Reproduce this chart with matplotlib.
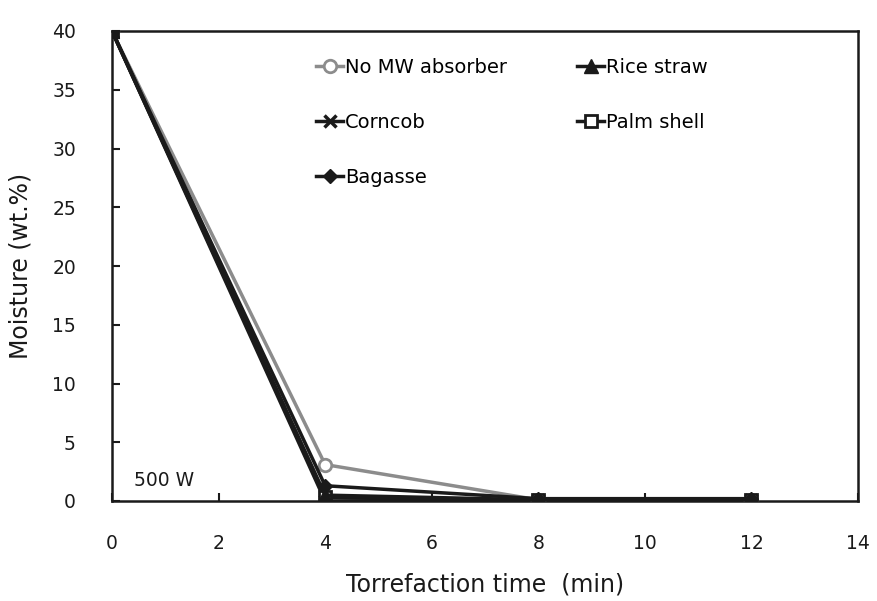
import matplotlib
matplotlib.use("Agg")
import matplotlib.pyplot as plt

plt.rcParams['font.family'] = ['DejaVu Sans']

time = [0, 4, 8, 12]
no_mw = [40, 3.1, 0.1, 0.1]
corncob = [40, 0.0, 0.1, 0.1]
bagasse = [40, 1.3, 0.2, 0.2]
rice_straw = [40, 0.5, 0.1, 0.1]
palm_shell = [40, 0.3, 0.1, 0.1]

fig = plt.figure(figsize=(8.77, 6.01), dpi=100)
ax = fig.add_axes([112/877, 1-501/601, (858-112)/877, (501-31)/601])

dark = '#1a1a1a'
h_no, = ax.plot(time, no_mw, color='#8c8c8c', lw=2.5, marker='o', ms=9, mfc='white', mec='#8c8c8c', mew=2, label='No MW absorber', zorder=3)
h_cc, = ax.plot(time, corncob, color=dark, lw=2.5, marker='x', ms=9, mew=2.5, label='Corncob', zorder=3)
h_ps, = ax.plot(time, palm_shell, color=dark, lw=2.5, marker='s', ms=8, mfc='white', mec=dark, mew=2, label='Palm shell', zorder=3)
h_rs, = ax.plot(time, rice_straw, color=dark, lw=2.5, marker='^', ms=10, mfc=dark, label='Rice straw', zorder=4)
h_bg, = ax.plot(time, bagasse, color=dark, lw=2.5, marker='D', ms=7, mfc=dark, label='Bagasse', zorder=4)

ax.set_xlim(0, 14)
ax.set_ylim(0, 40)
ax.set_xticks(range(0, 15, 2))
ax.set_yticks(range(0, 41, 5))
ax.tick_params(direction='in', length=6, width=1.5, labelsize=13.5, colors=dark)
ax.tick_params(axis='x', pad=24)
ax.tick_params(axis='y', pad=26)
for s in ax.spines.values():
    s.set_linewidth(1.8)
    s.set_color(dark)

ax.set_xlabel('Torrefaction time  (min)', fontsize=17, labelpad=14, color=dark)
ax.set_ylabel('Moisture (wt.%)', fontsize=17, labelpad=14, color=dark)

ax.text(0.42, 0.9, '500 W', fontsize=13.5, ha='left', va='bottom', color=dark)

ax.legend(handles=[h_no, h_cc, h_bg, h_rs, h_ps], loc='upper left', bbox_to_anchor=(0.25, 0.98), ncol=2, frameon=False,
          fontsize=14, handlelength=1.4, handletextpad=0.1, columnspacing=3.6,
          labelspacing=1.85)

fig.savefig('out.png', dpi=100)
